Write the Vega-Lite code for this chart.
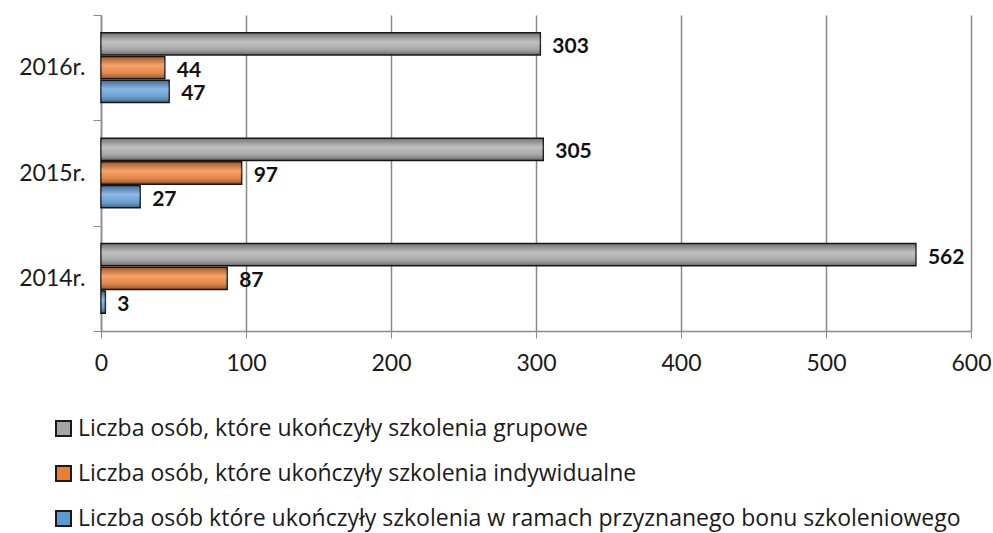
{
  "$schema": "https://vega.github.io/schema/vega-lite/v6.json",
  "autosize": "none",
  "width": 870,
  "height": 316,
  "padding": {"left": 101, "top": 15, "right": 22, "bottom": 202},
  "background": "white",
  "config": {
    "view": {"stroke": null},
    "font": "Lato",
    "axis": {"labelFont": "Lato", "labelColor": "#1a1a1a", "domainColor": "#8a8a8a", "tickColor": "#8a8a8a", "gridColor": "#8a8a8a"},
    "legend": {"labelFont": "Open Sans"}
  },
  "data": {
    "values": [
      {"year": "2016r.", "series": "Liczba osób, które ukończyły szkolenia grupowe", "value": 303},
      {"year": "2016r.", "series": "Liczba osób, które ukończyły szkolenia indywidualne", "value": 44},
      {"year": "2016r.", "series": "Liczba osób które ukończyły szkolenia w ramach przyznanego bonu szkoleniowego", "value": 47},
      {"year": "2015r.", "series": "Liczba osób, które ukończyły szkolenia grupowe", "value": 305},
      {"year": "2015r.", "series": "Liczba osób, które ukończyły szkolenia indywidualne", "value": 97},
      {"year": "2015r.", "series": "Liczba osób które ukończyły szkolenia w ramach przyznanego bonu szkoleniowego", "value": 27},
      {"year": "2014r.", "series": "Liczba osób, które ukończyły szkolenia grupowe", "value": 562},
      {"year": "2014r.", "series": "Liczba osób, które ukończyły szkolenia indywidualne", "value": 87},
      {"year": "2014r.", "series": "Liczba osób które ukończyły szkolenia w ramach przyznanego bonu szkoleniowego", "value": 3}
    ]
  },
  "encoding": {
    "y": {
      "field": "year", "type": "nominal", "sort": ["2016r.", "2015r.", "2014r."],
      "scale": {"paddingInner": 0, "paddingOuter": 0},
      "axis": {"title": null, "grid": false, "tickBand": "extent", "tickSize": 8, "labelFontSize": 23, "labelPadding": 8, "domainWidth": 1.5}
    },
    "x": {
      "field": "value", "type": "quantitative",
      "scale": {"domain": [0, 600], "nice": false},
      "axis": {"title": null, "values": [0, 100, 200, 300, 400, 500, 600], "grid": true, "gridWidth": 1.5, "tickSize": 7, "labelFontSize": 23, "labelPadding": 14, "domainWidth": 1.5, "labelFlush": false}
    },
    "yOffset": {
      "field": "series", "type": "nominal",
      "sort": ["Liczba osób, które ukończyły szkolenia grupowe", "Liczba osób, które ukończyły szkolenia indywidualne", "Liczba osób które ukończyły szkolenia w ramach przyznanego bonu szkoleniowego"],
      "scale": {"paddingInner": 0.06, "paddingOuter": 0.75}
    }
  },
  "layer": [
    {
      "mark": {"type": "bar", "stroke": "#1a1a1a", "strokeWidth": 1.5},
      "encoding": {
        "color": {
          "field": "series", "type": "nominal",
          "scale": {
            "domain": ["Liczba osób, które ukończyły szkolenia grupowe", "Liczba osób, które ukończyły szkolenia indywidualne", "Liczba osób które ukończyły szkolenia w ramach przyznanego bonu szkoleniowego"],
            "range": ["#A5A5A5", "#ED7D31", "#5B9BD5"]
          },
          "legend": {
            "title": null, "orient": "none", "direction": "vertical",
            "legendX": -49, "legendY": 402,
            "symbolType": "square", "symbolSize": 225, "symbolStrokeColor": "#1a1a1a", "symbolStrokeWidth": 2, "symbolOpacity": 1,
            "labelFontSize": 23, "labelColor": "#1a1a1a", "labelOffset": 3, "rowPadding": 21, "labelLimit": 1000
          }
        }
      }
    },
    {
      "mark": {
        "type": "bar", "strokeWidth": 0,
        "fill": {"gradient": "linear", "x1": 0, "y1": 0, "x2": 0, "y2": 1,
          "stops": [
            {"offset": 0, "color": "rgba(0,0,0,0.3)"},
            {"offset": 0.4, "color": "rgba(255,255,255,0.3)"},
            {"offset": 0.6, "color": "rgba(255,255,255,0.15)"},
            {"offset": 1, "color": "rgba(0,0,0,0.4)"}
          ]}
      },
      "encoding": {}
    },
    {
      "mark": {"type": "text", "align": "left", "baseline": "middle", "dx": 12, "dy": 3, "fontSize": 21, "fontWeight": "bold", "color": "#111"},
      "encoding": {"text": {"field": "value", "type": "quantitative"}}
    }
  ]
}
